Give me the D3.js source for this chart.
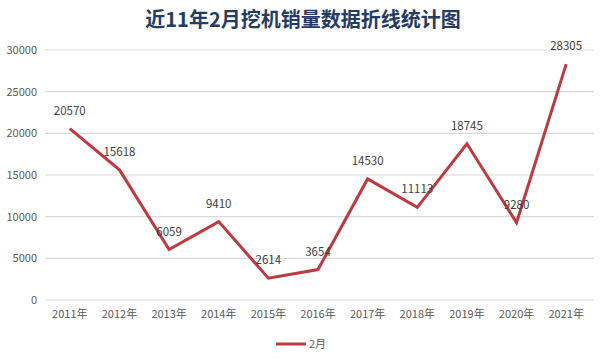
<!DOCTYPE html>
<html><head><meta charset="utf-8">
<script src="https://cdn.jsdelivr.net/npm/d3@7/dist/d3.min.js"></script>
<style>body{margin:0;background:#fff;}svg{display:block;}</style>
</head><body>
<svg id="chart" width="600" height="359"></svg>
<script>
const title = "近11年2月挖机销量数据折线统计图";
const categories = ["2011年","2012年","2013年","2014年","2015年","2016年","2017年","2018年","2019年","2020年","2021年"];
const values = [20570,15618,6059,9410,2614,3654,14530,11113,18745,9280,28305];
const yTicks = [0,5000,10000,15000,20000,25000,30000];
const seriesName = "2月";

const svg = d3.select("#chart");
const W = 600, H = 359;
const m = {left:45, right:9, top:50, bottom:59};
const x = d3.scaleBand().domain(categories).range([m.left, W - m.right]);
const y = d3.scaleLinear().domain([0,30000]).range([H - m.bottom, m.top]);
const font = "'Microsoft YaHei','Noto Sans CJK SC',sans-serif";

svg.append("text").attr("x",303).attr("y",27).attr("text-anchor","middle")
  .attr("font-family",font).attr("font-size",20).attr("font-weight","bold")
  .attr("fill","#243b63").text(title);

// grid
svg.append("g").selectAll("line").data(yTicks).join("line")
  .attr("x1",m.left).attr("x2",W - m.right+3)
  .attr("y1",d=>y(d)).attr("y2",d=>y(d))
  .attr("stroke","#d9d9d9").attr("stroke-width",1.2);

// y axis labels
const yAxis = d3.axisLeft(y).tickValues(yTicks).tickSize(0).tickPadding(8).tickFormat(d=>d);
const ga = svg.append("g").attr("transform",`translate(${m.left},0)`).call(yAxis);
ga.select(".domain").remove();
ga.selectAll("text").attr("font-family",font).attr("font-size",11).attr("fill","#595959");

// x axis labels
const xAxis = d3.axisBottom(x).tickSize(0).tickPadding(10);
const gx = svg.append("g").attr("transform",`translate(0,${y(0)})`).call(xAxis);
gx.select(".domain").remove();
gx.selectAll("text").attr("font-family",font).attr("font-size",11).attr("fill","#595959");

const cx = d => x(d) + x.bandwidth()/2;
const line = d3.line().x((d,i)=>cx(categories[i])).y(d=>y(d));
svg.append("path").datum(values).attr("d",line).attr("fill","none")
  .attr("stroke","#bf3a40").attr("stroke-width",3).attr("stroke-linejoin","miter");

svg.append("g").selectAll("text").data(values).join("text")
  .attr("x",(d,i)=>cx(categories[i])).attr("y",d=>y(d)-14)
  .attr("text-anchor","middle").attr("font-family",font).attr("font-size",11.5)
  .attr("fill","#404040").text(d=>d);

// legend
svg.append("line").attr("x1",276).attr("x2",306).attr("y1",344).attr("y2",344)
  .attr("stroke","#bf3a40").attr("stroke-width",3);
svg.append("text").attr("x",309).attr("y",348).attr("font-family",font)
  .attr("font-size",11).attr("fill","#595959").text(seriesName);
</script>
</body></html>
